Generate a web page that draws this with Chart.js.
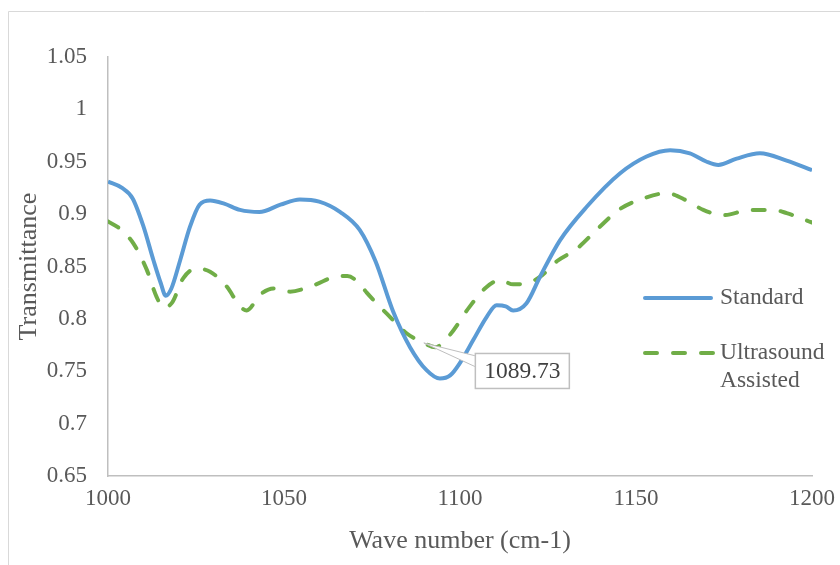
<!DOCTYPE html>
<html>
<head>
<meta charset="utf-8">
<script src="https://cdn.jsdelivr.net/npm/chart.js@4.4.0/dist/chart.umd.min.js"></script>
<style>
  html, body { margin: 0; padding: 0; background: #fff; }
  #wrap { width: 840px; height: 565px; position: relative; }
</style>
</head>
<body>
<div id="wrap"><canvas id="chart-canvas" width="840" height="565"></canvas></div>
<script>
// wave numbers (cm-1) and transmittance
const waveStd = [1000, 1004, 1007, 1010, 1013, 1015, 1016.4, 1018, 1020.5, 1023.3, 1026, 1029, 1033, 1037.5, 1043, 1049, 1054.5, 1060, 1066, 1071.5, 1076, 1081, 1085.8, 1090.5, 1094.3, 1097.2, 1100, 1103.8, 1107.6, 1110.4, 1113, 1115.1, 1118.9, 1122.7, 1128.4, 1136, 1145.5, 1153, 1159.7, 1165.3, 1170.1, 1173.4, 1178.6, 1185.2, 1192.8, 1200];
const transStd = [0.931, 0.925, 0.915, 0.889, 0.855, 0.834, 0.822, 0.829, 0.856, 0.888, 0.909, 0.913, 0.91, 0.904, 0.902, 0.909, 0.914, 0.912, 0.902, 0.885, 0.855, 0.807, 0.773, 0.751, 0.743, 0.746, 0.758, 0.78, 0.802, 0.813, 0.812, 0.808, 0.815, 0.84, 0.875, 0.907, 0.939, 0.955, 0.961, 0.958, 0.95, 0.947, 0.953, 0.958, 0.951, 0.942];

const waveUS = [1000, 1003.4, 1007.2, 1011, 1013.8, 1015.7, 1018.1, 1021.4, 1025, 1029, 1033.7, 1037.5, 1039.4, 1043.2, 1047, 1051.7, 1058.3, 1065.9, 1068, 1071.6, 1073.5, 1079.2, 1084.9, 1089.73, 1093, 1097.2, 1102.6, 1107.4, 1111.4, 1115.1, 1118.9, 1122.7, 1127.5, 1133.2, 1138.8, 1145.5, 1152.1, 1158.7, 1164.4, 1169.1, 1174.8, 1182.4, 1189, 1192.8, 1200];
const transUS = [0.893, 0.886, 0.872, 0.847, 0.821, 0.811, 0.815, 0.839, 0.848, 0.845, 0.831, 0.812, 0.808, 0.823, 0.829, 0.826, 0.832, 0.841, 0.841, 0.833, 0.825, 0.805, 0.786, 0.777, 0.773, 0.785, 0.811, 0.83, 0.837, 0.833, 0.834, 0.84, 0.855, 0.867, 0.885, 0.905, 0.915, 0.92, 0.913, 0.904, 0.899, 0.904, 0.904, 0.901, 0.892];

const seriesNames = ['Standard', ['Ultrasound', 'Assisted']];
const calloutX = 1089.73;
const calloutY = 0.777;
const calloutText = '1089.73';

const serif = "'Liberation Serif', 'Times New Roman', serif";
const textColor = '#595959';
const blue = '#5B9BD5';
const green = '#70AD47';

const toPoints = (xs, ys) => xs.map((x, i) => ({ x: x, y: ys[i] }));

// outer frame, legend and the data callout are drawn by hand
const extrasPlugin = {
  id: 'extras',
  beforeDraw(chart) {
    const ctx = chart.ctx;
    ctx.save();
    ctx.fillStyle = '#fff';
    ctx.fillRect(0, 0, chart.width, chart.height);
    ctx.strokeStyle = '#d9d9d9';
    ctx.lineWidth = 1;
    ctx.beginPath();
    ctx.moveTo(8.5, chart.height);
    ctx.lineTo(8.5, 11.5);
    ctx.lineTo(chart.width, 11.5);
    ctx.stroke();
    ctx.restore();
  },
  afterDraw(chart) {
    const ctx = chart.ctx;
    const xs = chart.scales.x;
    const ys = chart.scales.y;
    ctx.save();

    // legend
    ctx.font = '23.5px ' + serif;
    ctx.fillStyle = textColor;
    ctx.textBaseline = 'middle';
    ctx.lineCap = 'round';
    ctx.lineWidth = 4;

    ctx.strokeStyle = blue;
    ctx.setLineDash([]);
    ctx.beginPath();
    ctx.moveTo(645, 298);
    ctx.lineTo(711, 298);
    ctx.stroke();
    ctx.fillText(seriesNames[0], 720, 298);

    ctx.strokeStyle = green;
    ctx.setLineDash([12, 16]);
    ctx.beginPath();
    ctx.moveTo(645, 353);
    ctx.lineTo(713, 353);
    ctx.stroke();
    ctx.setLineDash([]);
    ctx.fillText(seriesNames[1][0], 720, 353);
    ctx.fillText(seriesNames[1][1], 720, 381);

    // callout
    const px = xs.getPixelForValue(calloutX);
    const py = ys.getPixelForValue(calloutY);
    const bx = px + 51, by = py + 10, bw = 94, bh = 35;
    ctx.lineCap = 'butt';
    ctx.lineWidth = 1;
    ctx.strokeStyle = '#bfbfbf';
    ctx.fillStyle = '#fff';
    ctx.beginPath();
    ctx.moveTo(px, py);
    ctx.lineTo(bx + 1, by + 3);
    ctx.lineTo(bx + 1, by + 14);
    ctx.closePath();
    ctx.fill();
    ctx.stroke();
    ctx.fillRect(bx, by, bw, bh);
    ctx.lineWidth = 1.5;
    ctx.strokeRect(bx + 0.5, by + 0.5, bw, bh);
    ctx.fillStyle = '#404040';
    ctx.font = '23.5px ' + serif;
    ctx.textAlign = 'center';
    ctx.fillText(calloutText, bx + bw / 2 + 0.5, by + bh / 2 + 1);

    ctx.restore();
  }
};

const ctx = document.getElementById('chart-canvas').getContext('2d');
new Chart(ctx, {
  type: 'line',
  data: {
    datasets: [
      {
        label: 'Standard',
        data: toPoints(waveStd, transStd),
        borderColor: blue,
        borderWidth: 4,
        pointRadius: 0,
        tension: 0.4,
        cubicInterpolationMode: 'monotone',
        fill: false
      },
      {
        label: 'Ultrasound Assisted',
        data: toPoints(waveUS, transUS),
        borderColor: green,
        borderWidth: 4,
        borderDash: [12, 16],
        borderCapStyle: 'round',
        pointRadius: 0,
        tension: 0.4,
        cubicInterpolationMode: 'monotone',
        fill: false
      }
    ]
  },
  options: {
    responsive: false,
    animation: false,
    layout: { padding: { left: 0, top: 57, right: 28, bottom: 0 } },
    plugins: {
      legend: { display: false },
      tooltip: { enabled: false }
    },
    scales: {
      x: {
        type: 'linear',
        min: 1000,
        max: 1200,
        grid: { display: false, drawTicks: false },
        border: { display: true, color: '#bfbfbf', width: 1.5 },
        ticks: {
          stepSize: 50,
          padding: 9,
          color: textColor,
          font: { family: serif, size: 23 },
          maxRotation: 0,
          callback: (v) => String(v)
        },
        title: {
          display: true,
          text: 'Wave number (cm-1)',
          color: textColor,
          font: { family: serif, size: 26 },
          padding: { top: 0, bottom: 8 }
        },
        afterFit(scale) {
          scale.height = 89;
          scale.paddingLeft = 0;
          scale.paddingRight = 0;
        }
      },
      y: {
        min: 0.65,
        max: 1.05,
        grid: { display: false, drawTicks: false },
        border: { display: true, color: '#bfbfbf', width: 1.5 },
        ticks: {
          stepSize: 0.05,
          padding: 21,
          color: textColor,
          font: { family: serif, size: 23 },
          callback: (v) => parseFloat(v.toFixed(2)).toString()
        },
        title: {
          display: true,
          text: 'Transmittance',
          color: textColor,
          font: { family: serif, size: 26 },
          padding: { top: 14, bottom: 0 }
        },
        afterFit(scale) { scale.width = 108; }
      }
    }
  },
  plugins: [extrasPlugin]
});
</script>
</body>
</html>
